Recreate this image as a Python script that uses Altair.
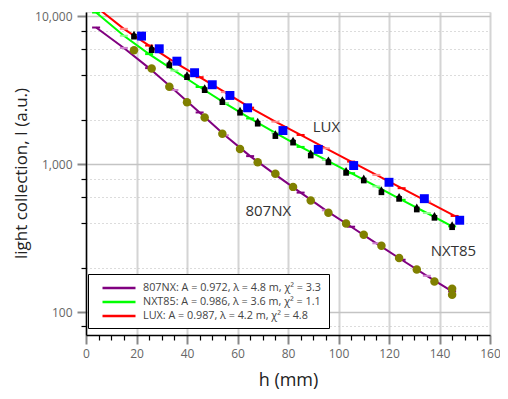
import altair as alt
import pandas as pd

# ---------------- data ----------------
legend_labels = [
    "807NX: A = 0.972, λ = 4.8 m, χ² = 3.3",
    "NXT85: A = 0.986, λ = 3.6 m, χ² = 1.1",
    "LUX: A = 0.987, λ = 4.2 m, χ² = 4.8",
]
line_colors = ["#800080", "#00ff00", "#ff0000"]
tick_light = ["#cf7fcf", "#8cff8c", "#ff8c8c"]

# fitted curves
h_fit = [4, 15, 25, 35, 45, 55, 65, 75, 85, 95, 105, 115, 125, 135, 145]
fit_807 = [8410, 6120, 4470, 3180, 2240, 1570, 1135, 851, 643, 488, 378, 292, 226, 176, 138]
fit_nxt = [10620, 7400, 5560, 4300, 3330, 2590, 2040, 1630, 1310, 1070, 870, 708, 575, 468, 380]
h_fit_lux = [4, 15, 25, 35, 45, 55, 65, 75, 85, 95, 105, 115, 125, 135, 146]
fit_lux = [11600, 8240, 6350, 4910, 3880, 3076, 2415, 1941, 1578, 1282, 1042, 847, 689, 560, 447]

# measured points
h_807 = [19, 26, 33, 40, 47, 54, 61, 68, 75, 82, 89, 96, 103, 110, 117, 124, 131, 138, 145, 145]
I_807 = [5910, 4450, 3340, 2630, 2070, 1610, 1270, 1030, 861, 703, 569, 469, 397, 334, 281, 232, 194, 161, 144, 131]
h_nxt = [19, 26, 33, 40, 47, 54, 61, 68, 75, 82, 89, 96, 103, 110, 117, 124, 131, 138, 145]
I_nxt = [7290, 5910, 4660, 3880, 3170, 2630, 2230, 1880, 1550, 1400, 1145, 1030, 874, 776, 646, 583, 494, 434, 375]
h_lux = [22, 29, 36, 43, 50, 57, 64, 78, 92, 106, 120, 134, 148]
I_lux = [7360, 6040, 4980, 4160, 3450, 2920, 2410, 1690, 1260, 980, 755, 585, 418]

# annotations
ann_text = ["LUX", "807NX", "NXT85"]
ann_h = [95.2, 72.2, 145.5]
ann_I = [1778, 484, 259]

# axes
x_major = [0, 20, 40, 60, 80, 100, 120, 140, 160]
x_minor = [5, 10, 15, 25, 30, 35, 45, 50, 55, 65, 70, 75, 85, 90, 95, 105, 110, 115, 125, 130, 135, 145, 150, 155]
y_major = [100, 1000, 10000]
y_minor = [80, 200, 400, 600, 800, 2000, 4000, 6000, 8000]

# ---------------- frames ----------------
fit_rows = []
for lab, hs, vs, dark, light in [
    (legend_labels[0], h_fit, fit_807, line_colors[0], tick_light[0]),
    (legend_labels[1], h_fit, fit_nxt, line_colors[1], tick_light[1]),
    (legend_labels[2], h_fit_lux, fit_lux, line_colors[2], tick_light[2]),
]:
    for j, (h, v) in enumerate(zip(hs, vs)):
        fit_rows.append({"h": h, "I": v, "label": lab, "tc": dark if j % 2 == 0 else light})
fit_df = pd.DataFrame(fit_rows)

df_807 = pd.DataFrame({"h": h_807, "I": I_807})
df_nxt = pd.DataFrame({"h": h_nxt, "I": I_nxt})
df_lux = pd.DataFrame({"h": h_lux, "I": I_lux})
df_ann = pd.DataFrame({"h": ann_h, "I": ann_I, "t": ann_text})

FONT = "Open Sans"
xs = alt.Scale(domain=[0, 160], nice=False, zero=False)
ys = alt.Scale(type="log", domain=[70, 10710], nice=False)

x_axis_major = alt.Axis(
    values=x_major, title="h (mm)", orient="bottom", grid=True, gridColor="#d4d4d4", gridWidth=2,
    tickColor="#888", tickWidth=2, tickSize=9, labelPadding=4, labelFontSize=12,
    labelColor="#666", labelFont=FONT, titleFont=FONT, titleFontSize=18,
    titleFontWeight="normal", titleColor="#222", titleY=45, titleBaseline="middle",
    domainColor="#000", domainWidth=1.5, labelFlush=False, labelOverlap=False,
)
y_axis_major = alt.Axis(
    values=y_major, format=",d", title="light collection, I (a.u.)", orient="left",
    grid=True, gridColor="#c4c4c4", gridWidth=1.3,
    tickColor="#888", tickWidth=2, tickSize=9, labelPadding=5, labelFontSize=12,
    labelColor="#666", labelFont=FONT, titleFont=FONT, titleFontSize=17,
    titleFontWeight="normal", titleColor="#222", titleX=-65, titleY=161,
    titleAngle=270, titleAlign="center", titleBaseline="middle",
    domainColor="#000", domainWidth=1.5, labelOverlap=False,
)
x_axis_minor = alt.Axis(values=x_minor, labels=False, title=None, grid=False, tickSize=5,
                        tickColor="#000", tickWidth=1.2, domain=False, orient="bottom")
y_axis_minor = alt.Axis(values=y_minor, labels=False, title=None, grid=True, gridDash=[1, 3],
                        gridColor="#b8b8b8", gridWidth=1, tickSize=5, tickColor="#000",
                        tickWidth=1.2, domain=False, orient="left")

X = lambda: alt.X("h:Q", scale=xs, axis=None)
Y = lambda: alt.Y("I:Q", scale=ys, axis=None)

minor = alt.Chart(fit_df).mark_point(opacity=0).encode(
    x=alt.X("h:Q", scale=xs, axis=x_axis_minor),
    y=alt.Y("I:Q", scale=ys, axis=y_axis_minor),
)

lines = alt.Chart(fit_df).mark_line(strokeWidth=2, clip=True).encode(
    x=alt.X("h:Q", scale=xs, axis=x_axis_major),
    y=alt.Y("I:Q", scale=ys, axis=y_axis_major),
    color=alt.Color(
        "label:N",
        scale=alt.Scale(domain=legend_labels, range=line_colors),
        sort=legend_labels,
        legend=alt.Legend(
            title=None, orient="none", legendX=2, legendY=262, fillColor="white",
            strokeColor="black", padding=7, symbolType="M-3,0L3,0", symbolSize=121,
            symbolStrokeWidth=2.5, symbolOffset=17, labelFontSize=10.8, labelFont=FONT,
            labelColor="#444", labelLimit=400, rowPadding=2, labelOffset=17,
        ),
    ),
)

ticks = alt.Chart(fit_df).mark_point(
    shape="M-1,0L1,0", size=64, strokeWidth=2, filled=False, opacity=1, clip=True
).encode(x=X(), y=Y(), color=alt.Color("tc:N", scale=None))

pts_807 = alt.Chart(df_807).mark_circle(size=72, color="#808000", opacity=1).encode(x=X(), y=Y())
pts_nxt_sq = alt.Chart(df_nxt).mark_square(size=32, color="#000", opacity=1).encode(x=X(), y=Y())
pts_nxt_tri = alt.Chart(df_nxt).mark_point(shape="triangle-up", size=20, filled=True,
                                           color="#000", opacity=1, yOffset=-4).encode(x=X(), y=Y())
pts_lux = alt.Chart(df_lux).mark_square(size=80, color="#0000ff", opacity=1).encode(x=X(), y=Y())

ann = alt.Chart(df_ann).mark_text(font=FONT, fontSize=15, color="#333").encode(
    x=X(), y=Y(), text="t:N")

chart = alt.layer(
    minor, lines, ticks, pts_807, pts_nxt_sq, pts_nxt_tri, pts_lux, ann
).resolve_axis(x="independent", y="independent").properties(
    width=404, height=323,
    autosize=alt.AutoSizeParams(type="none"),
    padding={"left": 78, "top": 4, "right": 10, "bottom": 55},
).configure_view(stroke="#000", strokeWidth=1.2).configure(background="white")

chart.save("out.html", embed_options={"renderer": "svg", "actions": False})
